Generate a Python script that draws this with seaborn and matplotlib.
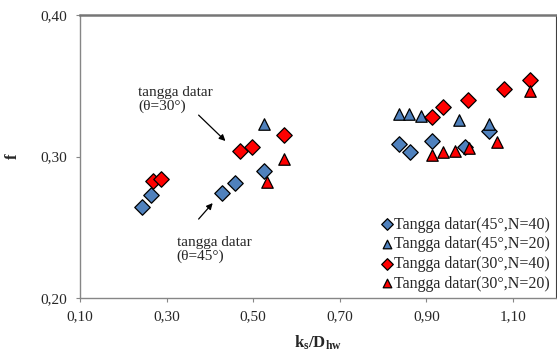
import matplotlib
matplotlib.use("Agg")
import matplotlib.pyplot as plt
import seaborn as sns
import pandas as pd

sns.set_style("white")
plt.rcParams["font.family"] = ["Liberation Serif", "DejaVu Serif"]
plt.rcParams["mathtext.fontset"] = "custom"
plt.rcParams["mathtext.rm"] = "Liberation Serif"
plt.rcParams["mathtext.bf"] = "Liberation Serif:bold"

# Tangga datar, theta = 45 deg, N = 40
x_45_40 = [0.244, 0.263, 0.429, 0.458, 0.524, 0.836, 0.863, 0.914, 0.989, 1.045]
f_45_40 = [0.264, 0.273, 0.274, 0.281, 0.290, 0.309, 0.303, 0.311, 0.307, 0.318]
# Tangga datar, theta = 45 deg, N = 20
x_45_20 = [0.525, 0.836, 0.861, 0.887, 0.975, 1.045]
f_45_20 = [0.323, 0.330, 0.330, 0.329, 0.326, 0.323]
# Tangga datar, theta = 30 deg, N = 40
x_30_40 = [0.268, 0.287, 0.470, 0.498, 0.572, 0.912, 0.939, 0.997, 1.079, 1.139]
f_30_40 = [0.283, 0.284, 0.304, 0.307, 0.315, 0.328, 0.335, 0.340, 0.348, 0.354]
# Tangga datar, theta = 30 deg, N = 20
x_30_20 = [0.532, 0.572, 0.912, 0.939, 0.966, 0.999, 1.064, 1.139]
f_30_20 = [0.282, 0.298, 0.301, 0.303, 0.304, 0.306, 0.310, 0.346]

labels = ["Tangga datar(45°,N=40)", "Tangga datar(45°,N=20)",
          "Tangga datar(30°,N=40)", "Tangga datar(30°,N=20)"]
series_x = [x_45_40, x_45_20, x_30_40, x_30_20]
series_f = [f_45_40, f_45_20, f_30_40, f_30_20]
colors = ["#4F81BD", "#4F81BD", "#FF0000", "#FF0000"]
markers = ["D", "^", "D", "^"]
sizes = [62, 68, 62, 68]

x_ticks = [0.10, 0.30, 0.50, 0.70, 0.90, 1.10]
y_ticks = [0.20, 0.30, 0.40]

fig = plt.figure(figsize=(5.57, 3.51), dpi=100)
ax = fig.add_axes([0.1436, 0.151, 0.855, 0.806])

for xs, fs, lab, c, m, s in zip(series_x, series_f, labels, colors, markers, sizes):
    df = pd.DataFrame({"x": xs, "f": fs})
    sns.scatterplot(data=df, x="x", y="f", ax=ax, color=c, marker=m, s=s,
                    edgecolor="black", linewidth=0.9, label=lab, zorder=3)

ax.set_xlim(0.10, 1.20)
ax.set_ylim(0.20, 0.40)
ax.set_xticks(x_ticks)
ax.set_yticks(y_ticks)
ax.set_xticklabels([f"{v:.2f}".replace(".", ",") for v in x_ticks], fontsize=11)
ax.set_yticklabels([f"{v:.2f}".replace(".", ",") for v in y_ticks], fontsize=11)
ax.tick_params(axis="x", direction="out", length=3, width=0.8, color="#868686",
               bottom=True, pad=6)
ax.tick_params(axis="y", direction="out", length=3, width=0.8, color="#868686",
               left=True, pad=6)

ax.set_xlabel(r"$\mathbf{k_s/D_{hw}}$", fontsize=12, labelpad=7)
ax.set_ylabel("f", fontsize=12, fontweight="bold", labelpad=14)

for side in ["left", "bottom"]:
    ax.spines[side].set_color("#868686")
    ax.spines[side].set_linewidth(1.0)
ax.spines["top"].set_color("#767676")
ax.spines["top"].set_linewidth(1.8)
ax.spines["right"].set_color("#404040")
ax.spines["right"].set_linewidth(0.8)

arrow_style = dict(arrowstyle="-|>", color="black", lw=0.9,
                   shrinkA=0, shrinkB=0, mutation_scale=9)
ax.annotate("", xy=(0.436, 0.311), xytext=(0.374, 0.3293), arrowprops=arrow_style)
ax.annotate("", xy=(0.4065, 0.2671), xytext=(0.374, 0.2558), arrowprops=arrow_style)
ax.text(0.234, 0.3400, "tangga datar\n(θ=30°)", fontsize=11, ha="left", va="center",
        linespacing=1.05)
ax.text(0.3235, 0.2346, "tangga datar\n(θ=45°)", fontsize=11, ha="left", va="center",
        linespacing=1.05)

leg = ax.legend(loc="lower right", frameon=False, fontsize=11.5, handletextpad=0.05,
                borderaxespad=0.2, labelspacing=0.23, handlelength=0.8,
                borderpad=0.2, markerscale=0.75)

fig.savefig("out.png", dpi=100)
